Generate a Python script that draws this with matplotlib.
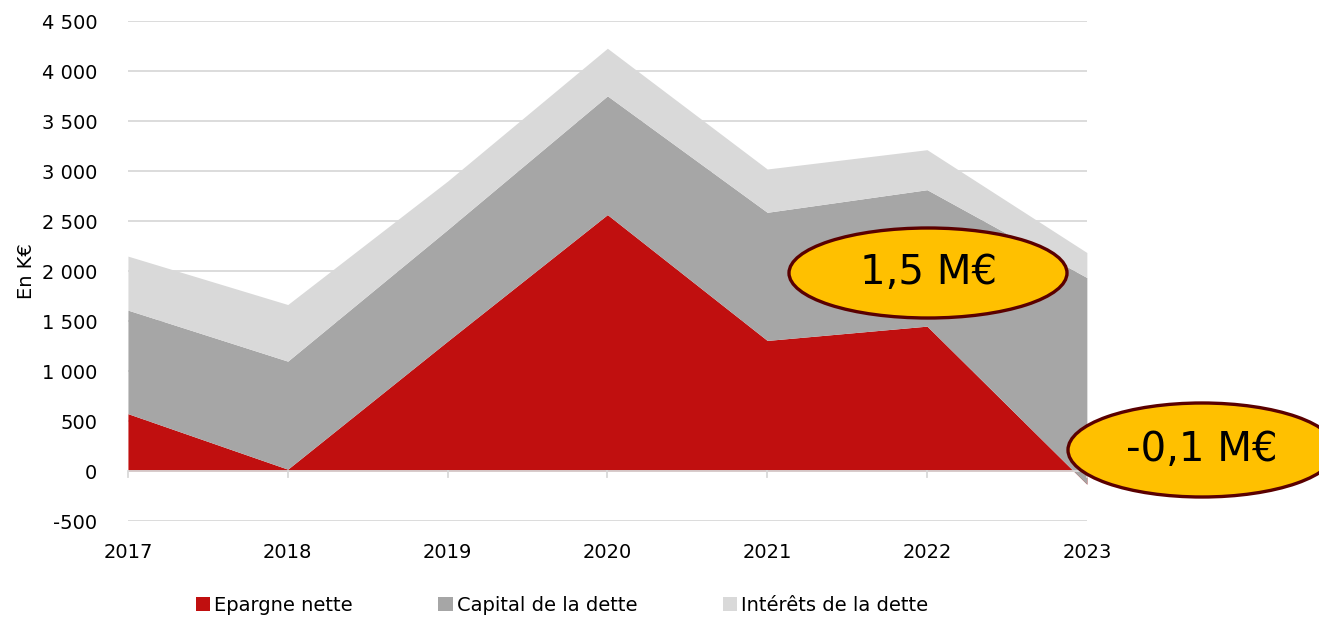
import numpy as np
import matplotlib
matplotlib.use("Agg")
import matplotlib.pyplot as plt
from matplotlib.patches import Ellipse, Patch
from matplotlib.ticker import FuncFormatter

plt.rcParams['font.family'] = ['DejaVu Sans']

# values in K€
years = ['2017', '2018', '2019', '2020', '2021', '2022', '2023']
epargne = [575, 20, 1300, 2565, 1307, 1450, -130]
capital = [1035, 1080, 1115, 1187, 1281, 1364, 2066]
interets = [540, 566, 485, 476, 433, 400, 250]
series_names = ['Epargne nette', 'Capital de la dette', 'Intérêts de la dette']
bubble_texts = ['1,5 M€', '-0,1 M€']

colors = ['#C00F0F', '#A6A6A6', '#D9D9D9']
FS = 14

x = np.arange(len(years))
ep = np.array(epargne, dtype=float)
top_cap = ep + np.array(capital)
top_int = top_cap + np.array(interets)

fig = plt.figure(figsize=(13.19, 6.19), dpi=100)
ax = fig.add_axes([0.097, 0.158, 0.727, 0.808])

ax.fill_between(x, 0, ep, color=colors[0], lw=0, zorder=2)
ax.fill_between(x, ep, top_cap, color=colors[1], lw=0, zorder=3)
ax.fill_between(x, top_cap, top_int, color=colors[2], lw=0, zorder=3)

ax.set_xlim(0, len(years) - 1)
ax.set_ylim(-500, 4500)
ax.set_yticks(np.arange(-500, 4501, 500))
ax.yaxis.set_major_formatter(FuncFormatter(lambda v, p: f"{int(v):,}".replace(',', ' ')))
for v in np.arange(-500, 4501, 500):
    if v != 0:
        ax.axhline(v, color='#D9D9D9', lw=1.3, zorder=1)
ax.axhline(0, color='#D9D9D9', lw=1.3, zorder=4)

# category ticks on the zero line, labels below the chart
ax.set_xticks(x)
ax.set_xticklabels([])
ax.tick_params(axis='x', length=0)
for xi in x:
    ax.plot([xi, xi], [0, -55], color='#D9D9D9', lw=1.3, zorder=4, clip_on=False)
    ax.text(xi, -810, years[xi], ha='center', va='center', fontsize=FS, color='#000000')

ax.tick_params(axis='y', length=0, labelsize=FS, pad=22)
for s in ax.spines.values():
    s.set_visible(False)
ax.set_ylabel('En K€', fontsize=FS, labelpad=4)

# bubbles drawn in pixel space of the figure
W, H = 1319, 619
bubbles = [((928, 273), 278, 90), ((1202, 450), 268, 94)]
for (cx, cy), w, h in bubbles:
    e = Ellipse((cx / W, 1 - cy / H), w / W, h / H, transform=fig.transFigure,
                facecolor='#FFC000', edgecolor='#5A0000', lw=2.4, zorder=10)
    fig.patches.append(e)
for ((cx, cy), w, h), t in zip(bubbles, bubble_texts):
    fig.text(cx / W, 1 - cy / H, t, ha='center', va='center', fontsize=29, color='#000000', zorder=11)

handles = [Patch(facecolor=c, edgecolor='none') for c in colors]
fig.legend(handles, series_names, loc='center', bbox_to_anchor=(0.426, 0.022), ncol=3,
           frameon=False, fontsize=FS, handlelength=0.75, handleheight=0.75,
           handletextpad=0.2, columnspacing=4.4)

fig.savefig('out.png', dpi=100)
